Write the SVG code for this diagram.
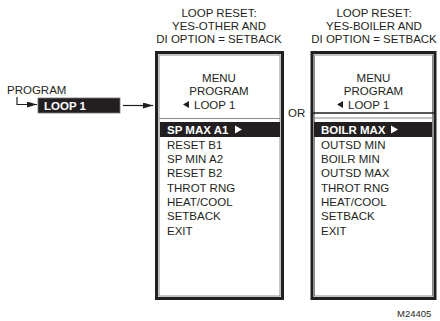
<svg xmlns="http://www.w3.org/2000/svg" width="440" height="321" viewBox="0 0 440 321">
<style>
text{font-family:"Liberation Sans",Arial,Helvetica,sans-serif;font-size:11.5px;fill:#231f20}
.c{text-anchor:middle}
.b{font-weight:bold;fill:#fff}
.outer{fill:#fff;stroke:#231f20;stroke-width:3}
.inner{fill:none;stroke:#8a8a8a;stroke-width:1}
.bar{fill:#231f20}
.ln{stroke:#231f20;stroke-width:1.2;fill:none}
</style>
<defs>
<marker id="ah" markerWidth="10" markerHeight="6" refX="10" refY="3" orient="auto" markerUnits="userSpaceOnUse">
<path d="M0,0 L10,3 L0,6 Z" fill="#231f20"/>
</marker>
</defs>

<g id="program">
<text x="7" y="94">PROGRAM</text>
</g>
<g id="loop1">
<rect class="bar" x="38" y="98" width="82" height="15"/>
<rect x="38" y="98" width="82" height="15" fill="none" stroke="#777" stroke-width="0.8"/>
<text class="b" x="44" y="110">LOOP 1</text>
</g>

<g id="connectors">
<path class="ln" d="M17,97 V104.5 H37" marker-end="url(#ah)"/>
<path class="ln" d="M123,105.5 H153" marker-end="url(#ah)"/>
</g>

<g id="header-left">
<text class="c" x="219" y="17">LOOP RESET:</text>
<text class="c" x="219" y="30">YES-OTHER AND</text>
<text class="c" x="219" y="43">DI OPTION = SETBACK</text>
</g>
<g id="header-right">
<text class="c" x="374" y="17">LOOP RESET:</text>
<text class="c" x="374" y="30">YES-BOILER AND</text>
<text class="c" x="374" y="43">DI OPTION = SETBACK</text>
</g>

<g id="menu-left">
<rect class="outer" x="156.5" y="52.5" width="126" height="246"/>
<rect class="inner" x="159" y="55" width="121" height="241"/>
<text class="c" x="219" y="82">MENU</text>
<text class="c" x="219" y="95">PROGRAM</text>
<polygon points="183,104.5 189,101 189,108" fill="#231f20"/>
<text x="194" y="108.5">LOOP 1</text>
<line x1="159" y1="118.5" x2="280" y2="118.5" stroke="#8a8a8a" stroke-width="1"/>
<rect class="bar" x="160" y="122" width="120" height="15"/>
<text class="b" x="167" y="134">SP MAX A1</text>
<polygon points="235,125.5 242,129.5 235,133.5" fill="#fff"/>
<text x="167" y="148.5">RESET B1</text>
<text x="167" y="162.5">SP MIN A2</text>
<text x="167" y="177">RESET B2</text>
<text x="167" y="191.5">THROT RNG</text>
<text x="167" y="205.5">HEAT/COOL</text>
<text x="167" y="220">SETBACK</text>
<text x="167" y="234.5">EXIT</text>
</g>

<g id="or">
<text x="288" y="117">OR</text>
</g>

<g id="menu-right">
<rect class="outer" x="312" y="52.5" width="123" height="246"/>
<rect class="inner" x="314.5" y="55" width="118" height="241"/>
<text class="c" x="373.5" y="82">MENU</text>
<text class="c" x="373.5" y="95">PROGRAM</text>
<polygon points="337,104.5 343,101 343,108" fill="#231f20"/>
<text x="348" y="108.5">LOOP 1</text>
<line x1="312" y1="113" x2="435" y2="113" stroke="#231f20" stroke-width="1.5"/>
<line x1="314.5" y1="118" x2="432.5" y2="118" stroke="#8a8a8a" stroke-width="1"/>
<rect class="bar" x="314" y="122" width="118" height="15"/>
<text class="b" x="321" y="134">BOILR MAX</text>
<polygon points="391,125.5 398,129.5 391,133.5" fill="#fff"/>
<text x="321" y="148.5">OUTSD MIN</text>
<text x="321" y="162.5">BOILR MIN</text>
<text x="321" y="177">OUTSD MAX</text>
<text x="321" y="191.5">THROT RNG</text>
<text x="321" y="205.5">HEAT/COOL</text>
<text x="321" y="220">SETBACK</text>
<text x="321" y="234.5">EXIT</text>
</g>

<g id="code">
<text x="397" y="317" style="font-size:9.5px">M24405</text>
</g>
</svg>
